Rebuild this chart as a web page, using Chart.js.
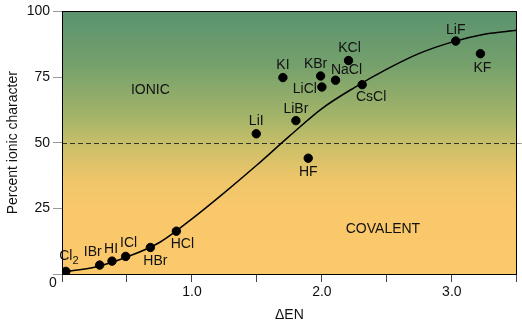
<!DOCTYPE html>
<html>
<head>
<meta charset="utf-8">
<script src="https://cdn.jsdelivr.net/npm/chart.js@4"></script>
<style>
    html, body { margin: 0; padding: 0; background: #fff; }
    #wrap { width: 522px; height: 325px; position: relative; }
</style>
</head>
<body>
<div id="wrap"><canvas id="ionicChart"></canvas></div>
<script>
// compounds plotted against electronegativity difference
const compounds = ['Cl2', 'IBr', 'HI', 'ICl', 'HBr', 'HCl', 'LiI', 'LiBr', 'KI', 'KBr', 'LiCl', 'NaCl', 'KCl', 'CsCl', 'HF', 'LiF', 'KF'];
const deltaEN = [0.03, 0.29, 0.385, 0.49, 0.68, 0.88, 1.495, 1.80, 1.70, 1.99, 2.0, 2.105, 2.205, 2.31, 1.895, 3.03, 3.22];
const ionicPercent = [1, 3.4, 4.9, 6.7, 10.1, 16.3, 53.4, 58.4, 74.8, 75.4, 71.2, 73.8, 81.3, 72.1, 44.1, 88.7, 83.9];

// trend curve read along its length
const curveEN = [0.03, 0.25, 0.5, 0.75, 1.0, 1.25, 1.5, 1.75, 2.0, 2.25, 2.5, 2.75, 3.0, 3.25, 3.5];
const curvePercent = [1, 2.6, 6.5, 12, 21, 31, 41.5, 52.5, 63, 71, 78, 84, 88.3, 91.3, 92.8];

const xLabelled = [1, 2, 3];
const yLabelled = [25, 50, 75, 100];
const dividerValue = 50;

const regionNames = ['IONIC', 'COVALENT'];
const regionEN = [0.68, 2.47];
const regionPercent = [70, 17];

document.addEventListener('DOMContentLoaded', () => {
    const palette = {
        ink: '#111111',
        tickGrey: '#9a9a9a',
        tickDark: '#444444'
    };
    const font = "'Liberation Sans', Arial, Helvetica, sans-serif";

    // label placement around each dot, in px
    const labelOffsets = {
        Cl2: [-1, -15], IBr: [-7, -13], HI: [-1, -12], ICl: [3, -13], HBr: [5, 14], HCl: [6, 13],
        LiI: [0, -13], LiBr: [0, -12], KI: [0, -12], KBr: [-5, -12], LiCl: [-17, 2], NaCl: [11, -10],
        KCl: [1, -12], CsCl: [9, 12], HF: [0, 14], LiF: [0, -11], KF: [2, 14]
    };

    const backdrop = {
        id: 'backdrop',
        beforeDraw(chart) {
            const { ctx, chartArea: a } = chart;
            const g = ctx.createLinearGradient(0, a.top, 0, a.bottom);
            g.addColorStop(0, '#5a936f');
            g.addColorStop(0.2, '#74a06c');
            g.addColorStop(0.4, '#a3b469');
            g.addColorStop(0.52, '#cdc069');
            g.addColorStop(0.64, '#efc56a');
            g.addColorStop(0.75, '#f9c86b');
            g.addColorStop(1, '#fbc96c');
            ctx.save();
            ctx.fillStyle = g;
            ctx.fillRect(a.left, a.top, a.right - a.left, a.bottom - a.top);
            ctx.restore();
        },
        beforeDatasetsDraw(chart) {
            const { ctx, chartArea: a, scales } = chart;
            const y50 = Math.round(scales.y.getPixelForValue(dividerValue)) + 0.5;
            ctx.save();
            ctx.strokeStyle = '#333';
            ctx.lineWidth = 1;
            ctx.setLineDash([5, 3]);
            ctx.beginPath();
            ctx.moveTo(a.left, y50);
            ctx.lineTo(a.right, y50);
            ctx.stroke();
            ctx.setLineDash([]);
            ctx.strokeStyle = palette.tickGrey;
            ctx.beginPath();
            ctx.moveTo(a.right, y50);
            ctx.lineTo(a.right + 5, y50);
            ctx.stroke();
            ctx.strokeStyle = '#000';
            ctx.strokeRect(Math.round(a.left) + 0.5, Math.round(a.top) + 0.5,
                Math.round(a.right - a.left) - 1, Math.round(a.bottom - a.top));
            ctx.restore();
        },
        afterDatasetsDraw(chart) {
            const { ctx, scales } = chart;
            ctx.save();
            ctx.fillStyle = palette.ink;
            ctx.textAlign = 'center';
            ctx.textBaseline = 'middle';
            ctx.font = `14px ${font}`;

            compounds.forEach((name, i) => {
                const px = scales.x.getPixelForValue(deltaEN[i]);
                const py = scales.y.getPixelForValue(ionicPercent[i]);
                const [dx, dy] = labelOffsets[name] || [0, -12];
                const sub = name.match(/^(.*?)(\d+)$/);
                if (sub) {
                    ctx.font = `14px ${font}`;
                    const w1 = ctx.measureText(sub[1]).width;
                    ctx.font = `11px ${font}`;
                    const w2 = ctx.measureText(sub[2]).width;
                    const left = px + dx + 4 - (w1 + w2) / 2;
                    ctx.textAlign = 'left';
                    ctx.font = `14px ${font}`;
                    ctx.fillText(sub[1], left, py + dy);
                    ctx.font = `11px ${font}`;
                    ctx.fillText(sub[2], left + w1, py + dy + 5);
                    ctx.textAlign = 'center';
                    ctx.font = `14px ${font}`;
                } else {
                    ctx.fillText(name, px + dx, py + dy);
                }
            });

            regionNames.forEach((name, i) => {
                ctx.fillText(name, scales.x.getPixelForValue(regionEN[i]), scales.y.getPixelForValue(regionPercent[i]));
            });

            // origin label sits below-left of the corner
            ctx.fillText('0', scales.x.left - 9, scales.y.getPixelForValue(0) + 9);
            ctx.restore();
        }
    };

    new Chart(document.getElementById('ionicChart').getContext('2d'), {
        type: 'scatter',
        data: {
            datasets: [
                {
                    type: 'line',
                    data: curveEN.map((x, i) => ({ x, y: curvePercent[i] })),
                    borderColor: '#000',
                    borderWidth: 1.5,
                    pointRadius: 0,
                    cubicInterpolationMode: 'monotone',
                    fill: false
                },
                {
                    data: deltaEN.map((x, i) => ({ x, y: ionicPercent[i] })),
                    backgroundColor: '#000',
                    borderColor: '#000',
                    pointRadius: 4.2,
                    pointHoverRadius: 4.2
                }
            ]
        },
        options: {
            responsive: true,
            maintainAspectRatio: false,
            animation: false,
            events: [],
            layout: { padding: { top: 11, right: 5, left: 0, bottom: 0 } },
            plugins: { legend: { display: false }, tooltip: { enabled: false } },
            scales: {
                x: {
                    type: 'linear',
                    min: 0,
                    max: 3.5,
                    afterFit: (s) => { s.height = 51; },
                    border: { display: false },
                    grid: { drawOnChartArea: false, drawTicks: true, tickLength: 8, color: palette.tickDark },
                    ticks: {
                        stepSize: 0.5,
                        padding: 2,
                        color: palette.ink,
                        font: { family: font, size: 14 },
                        callback: (v) => (xLabelled.includes(v) ? v.toFixed(1) : '')
                    },
                    title: {
                        display: true,
                        text: 'ΔEN',
                        color: palette.ink,
                        font: { family: font, size: 14 },
                        padding: { top: 0, bottom: 1 }
                    }
                },
                y: {
                    min: 0,
                    max: 100,
                    afterFit: (s) => { s.width = 62; },
                    border: { display: false },
                    grid: { drawOnChartArea: false, drawTicks: true, tickLength: 9, color: palette.tickGrey },
                    ticks: {
                        stepSize: 25,
                        padding: 3,
                        color: palette.ink,
                        font: { family: font, size: 14 },
                        callback: (v) => (yLabelled.includes(v) ? String(v) : '')
                    },
                    title: {
                        display: true,
                        text: 'Percent ionic character',
                        color: palette.ink,
                        font: { family: font, size: 14 },
                        padding: { top: 5, bottom: 0 }
                    }
                }
            }
        },
        plugins: [backdrop]
    });
});
</script>
</body>
</html>
